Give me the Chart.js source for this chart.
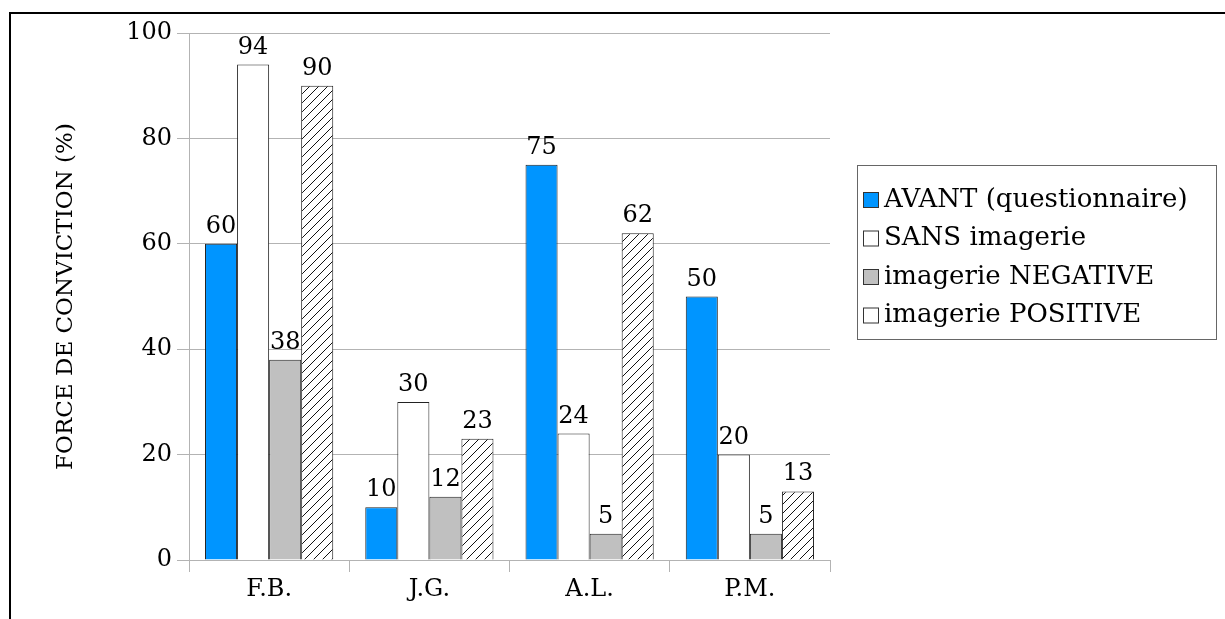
<!DOCTYPE html>
<html>
<head>
<meta charset="utf-8">
<script src="https://cdn.jsdelivr.net/npm/chart.js@4/dist/chart.umd.min.js"></script>
<style>
  html, body { margin: 0; padding: 0; background: #fff; }
  #wrap { width: 1225px; height: 619px; position: relative; }
</style>
</head>
<body>
<div id="wrap"><canvas id="chart" width="1225" height="619"></canvas></div>
<script>
const categories = ['F.B.', 'J.G.', 'A.L.', 'P.M.'];
const seriesNames = ['AVANT (questionnaire)', 'SANS imagerie', 'imagerie NEGATIVE', 'imagerie POSITIVE'];
const avant = [60, 10, 75, 50];
const sans = [94, 30, 24, 20];
const negative = [38, 12, 5, 5];
const positive = [90, 23, 62, 13];
const yTicks = [0, 20, 40, 60, 80, 100];

const FONT = "'DejaVu Serif', serif";
const FS = 24;

// hatch pattern for the "POSITIVE" bars
function makeHatch() {
    const c = document.createElement('canvas');
    c.width = 9; c.height = 9;
    const g = c.getContext('2d');
    g.fillStyle = '#fff';
    g.fillRect(0, 0, 9, 9);
    g.strokeStyle = '#111';
    g.lineWidth = 1;
    g.beginPath();
    g.moveTo(-1, 10); g.lineTo(10, -1);
    g.moveTo(-1, 1); g.lineTo(1, -1);
    g.moveTo(8, 10); g.lineTo(10, 8);
    g.stroke();
    return g.createPattern(c, 'repeat');
}
const ctx = document.getElementById('chart').getContext('2d');
const hatch = makeHatch();

const fills = ['#0095ff', '#ffffff', '#c0c0c0', hatch];
const legendFills = ['#0095ff', '#ffffff', '#c0c0c0', '#ffffff'];

const decorations = {
    id: 'decorations',
    afterDraw(chart) {
        const c = chart.ctx;
        c.save();
        // outer frame (top and left only)
        c.strokeStyle = '#000';
        c.lineWidth = 2;
        c.beginPath();
        c.moveTo(10, 619); c.lineTo(10, 13); c.lineTo(1225, 13);
        c.stroke();

        // y axis title
        c.fillStyle = '#000';
        c.font = '23px ' + FONT;
        c.textAlign = 'center';
        c.textBaseline = 'middle';
        c.translate(66, (chart.chartArea.top + chart.chartArea.bottom) / 2);
        c.rotate(-Math.PI / 2);
        c.fillText('FORCE DE CONVICTION (%)', 0, 0);
        c.restore();

        // value labels above bars
        c.save();
        c.fillStyle = '#000';
        c.font = FS + 'px ' + FONT;
        c.textAlign = 'center';
        c.textBaseline = 'alphabetic';
        chart.data.datasets.forEach((ds, i) => {
            chart.getDatasetMeta(i).data.forEach((bar, j) => {
                c.fillText(String(ds.data[j]), bar.x, bar.y - 11);
            });
        });
        c.restore();

        // legend
        c.save();
        c.strokeStyle = '#666';
        c.lineWidth = 1;
        c.strokeRect(857.5, 165.5, 359, 174);
        c.font = '26px ' + FONT;
        c.textAlign = 'left';
        c.textBaseline = 'middle';
        seriesNames.forEach((name, i) => {
            const y = 200 + i * 38.5;
            c.fillStyle = legendFills[i];
            c.fillRect(863.5, y - 7.5, 15, 15);
            c.strokeStyle = '#333';
            c.strokeRect(863.5, y - 7.5, 15, 15);
            c.fillStyle = '#000';
            c.fillText(name, 884, y);
        });
        c.restore();
    }
};

new Chart(ctx, {
    type: 'bar',
    data: {
        labels: categories,
        datasets: [avant, sans, negative, positive].map((d, i) => ({
            label: seriesNames[i],
            data: d,
            backgroundColor: fills[i],
            borderColor: '#222',
            borderWidth: 1,
            categoryPercentage: 0.8,
            barPercentage: 1.0
        }))
    },
    options: {
        responsive: false,
        animation: false,
        layout: { padding: { top: 33, right: 395, left: 0, bottom: 0 } },
        plugins: {
            legend: { display: false },
            tooltip: { enabled: false }
        },
        scales: {
            y: {
                min: 0,
                max: 100,
                afterBuildTicks(scale) {
                    scale.ticks = yTicks.map(v => ({ value: v }));
                },
                afterFit(scale) { scale.width = 189; },
                ticks: { color: '#000', font: { family: FONT, size: FS }, padding: 5 },
                grid: { color: '#b3b3b3', tickLength: 12 },
                border: { color: '#b3b3b3' }
            },
            x: {
                afterFit(scale) { scale.height = 59; },
                ticks: { color: '#000', font: { family: FONT, size: FS }, padding: 3 },
                grid: {
                    color: c => c.index === categories.length ? '#b3b3b3' : 'rgba(0,0,0,0)',
                    tickColor: '#b3b3b3',
                    tickLength: 12
                },
                border: { color: '#b3b3b3' }
            }
        }
    },
    plugins: [decorations]
});
</script>
</body>
</html>
